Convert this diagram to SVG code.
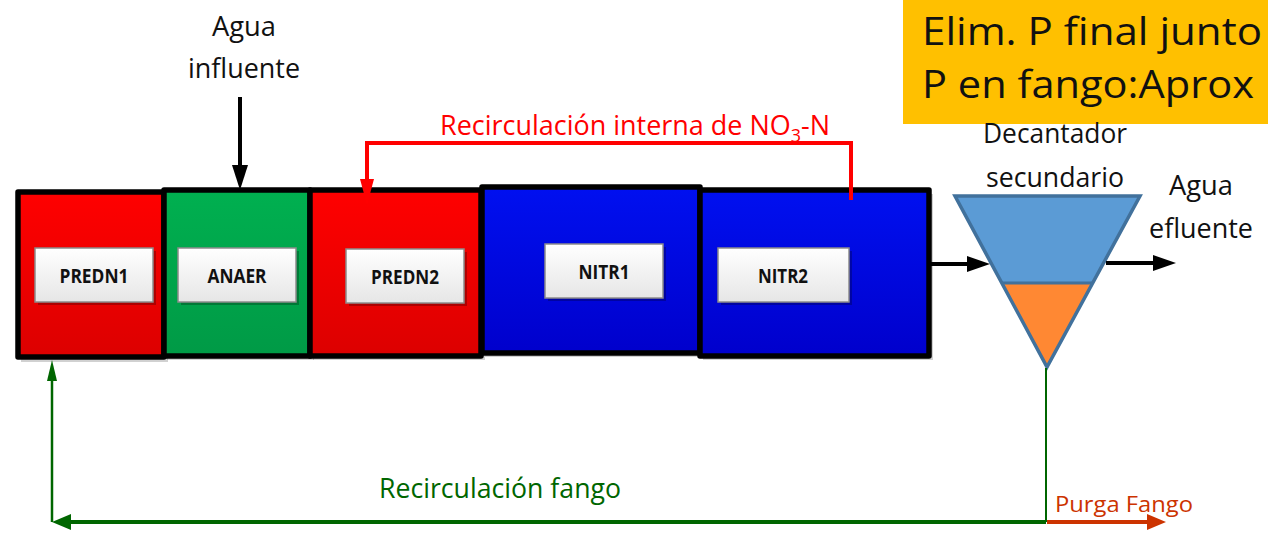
<svg xmlns="http://www.w3.org/2000/svg" width="1268" height="541" viewBox="0 0 1268 541">
<defs>
<linearGradient id="gRed" x1="0" y1="0" x2="0" y2="1"><stop offset="0" stop-color="#FF0000"/><stop offset="1" stop-color="#DC0000"/></linearGradient>
<linearGradient id="gGreen" x1="0" y1="0" x2="0" y2="1"><stop offset="0" stop-color="#00B050"/><stop offset="1" stop-color="#009A46"/></linearGradient>
<linearGradient id="gBlue" x1="0" y1="0" x2="0" y2="1"><stop offset="0" stop-color="#0010F0"/><stop offset="1" stop-color="#0000CC"/></linearGradient>
<linearGradient id="gLab" x1="0" y1="0" x2="0" y2="1"><stop offset="0" stop-color="#FFFFFF"/><stop offset="1" stop-color="#E6E6E6"/></linearGradient>
</defs>
<style>
.tank{stroke:#000;stroke-width:5.5;stroke-linejoin:round}
.shadow{fill:#000;opacity:0.18}
.lab{fill:url(#gLab);stroke:#8C8C8C;stroke-width:1.5}
.labsh{fill:#000;opacity:0.25}
.lt{font-family:"Open Sans","Noto Sans",sans-serif;font-weight:bold;font-size:20px;fill:#111;text-anchor:middle}
.t{font-family:"Open Sans","Noto Sans",sans-serif;font-size:27px;fill:#111;text-anchor:middle}
</style>

<g id="title">
<rect x="903" y="0" width="365" height="124" fill="#FFC000"/>
<text x="922" y="45" font-family="'Open Sans','Noto Sans',sans-serif" font-size="38" fill="#111" textLength="340" lengthAdjust="spacingAndGlyphs">Elim. P final junto</text>
<text x="922" y="98" font-family="'Open Sans','Noto Sans',sans-serif" font-size="38" fill="#111" textLength="332" lengthAdjust="spacingAndGlyphs">P en fango:Aprox</text>
</g>

<g id="influente">
<text class="t" x="244" y="36" textLength="64" lengthAdjust="spacingAndGlyphs">Agua</text>
<text class="t" x="244" y="78" textLength="112" lengthAdjust="spacingAndGlyphs">influente</text>
</g>

<g id="PREDN1">
<rect class="shadow" x="21" y="196" width="147" height="166"/>
<rect class="tank" x="18" y="192" width="146" height="165" fill="url(#gRed)"/>
<rect class="labsh" x="38" y="251" width="118" height="54"/>
<rect class="lab" x="35" y="248" width="118" height="54"/>
<text class="lt" x="94" y="283" textLength="69" lengthAdjust="spacingAndGlyphs">PREDN1</text>
</g>

<g id="ANAER">
<rect class="shadow" x="167" y="194" width="147" height="166"/>
<rect class="tank" x="164" y="190" width="146" height="166" fill="url(#gGreen)"/>
<rect class="labsh" x="181" y="251" width="118" height="54"/>
<rect class="lab" x="178" y="248" width="118" height="54"/>
<text class="lt" x="237" y="283" textLength="59" lengthAdjust="spacingAndGlyphs">ANAER</text>
</g>

<g id="PREDN2">
<rect class="shadow" x="313" y="194" width="172" height="166"/>
<rect class="tank" x="310" y="190" width="171" height="166" fill="url(#gRed)"/>
<rect class="labsh" x="349" y="252" width="118" height="54"/>
<rect class="lab" x="346" y="249" width="118" height="54"/>
<text class="lt" x="405" y="284" textLength="68" lengthAdjust="spacingAndGlyphs">PREDN2</text>
</g>

<g id="NITR1">
<rect class="shadow" x="485" y="191" width="219" height="166"/>
<rect class="tank" x="482" y="187" width="218" height="166" fill="url(#gBlue)"/>
<rect class="labsh" x="548" y="247" width="118" height="54"/>
<rect class="lab" x="545" y="244" width="118" height="54"/>
<text class="lt" x="604" y="279" textLength="51" lengthAdjust="spacingAndGlyphs">NITR1</text>
</g>

<g id="NITR2">
<rect class="shadow" x="703" y="194" width="230" height="166"/>
<rect class="tank" x="700" y="190" width="229" height="166" fill="url(#gBlue)"/>
<rect class="labsh" x="721" y="251" width="131" height="54"/>
<rect class="lab" x="718" y="248" width="131" height="54"/>
<text class="lt" x="783" y="283" textLength="50" lengthAdjust="spacingAndGlyphs">NITR2</text>
</g>

<g id="decantador">
<text class="t" x="1055" y="143" textLength="144" lengthAdjust="spacingAndGlyphs">Decantador</text>
<text class="t" x="1055" y="187" textLength="138" lengthAdjust="spacingAndGlyphs">secundario</text>
<polygon points="955,196 1140,196 1093,283 1001,283" fill="#5B9BD5"/>
<polygon points="1001,283 1093,283 1047,367" fill="#FF8833"/>
<line x1="1001" y1="283" x2="1093" y2="283" stroke="#41719C" stroke-width="3"/>
<polygon points="955,196 1140,196 1047,367" fill="none" stroke="#41719C" stroke-width="3.5" stroke-linejoin="miter"/>
</g>

<g id="efluente">
<text class="t" x="1201" y="195" textLength="64" lengthAdjust="spacingAndGlyphs">Agua</text>
<text class="t" x="1201" y="238" textLength="104" lengthAdjust="spacingAndGlyphs">efluente</text>
</g>

<g id="connectors">
<line x1="240" y1="97" x2="240" y2="168" stroke="#000" stroke-width="4"/>
<polygon points="232,165 248,165 240,190" fill="#000"/>
<polyline points="851,200 851,143 367,143 367,182" fill="none" stroke="#FF0000" stroke-width="4"/>
<polygon points="360,179 374,179 367,205" fill="#FF0000"/>
<line x1="931" y1="264" x2="970" y2="264" stroke="#000" stroke-width="4"/>
<polygon points="967,256 967,272 990,264" fill="#000"/>
<line x1="1106" y1="263" x2="1156" y2="263" stroke="#000" stroke-width="4"/>
<polygon points="1153,255 1153,271 1176,263" fill="#000"/>
<line x1="1046" y1="368" x2="1046" y2="522" stroke="#006600" stroke-width="2"/>
<line x1="1046" y1="522" x2="68" y2="522" stroke="#006600" stroke-width="4"/>
<polygon points="71,514 71,530 52,522" fill="#006600"/>
<line x1="52" y1="522" x2="52" y2="378" stroke="#006600" stroke-width="2.5"/>
<polygon points="47,381 57,381 52,360" fill="#006600"/>
<line x1="1047" y1="522" x2="1150" y2="522" stroke="#CC3300" stroke-width="4"/>
<polygon points="1147,514 1147,530 1166,522" fill="#CC3300"/>
<text x="440" y="135" font-family="'Open Sans','Noto Sans',sans-serif" font-size="27" fill="#FF0000" textLength="390" lengthAdjust="spacingAndGlyphs">Recirculación interna de NO<tspan font-size="18" dy="7">3</tspan><tspan dy="-7">-N</tspan></text>
<text x="379" y="498" font-family="'Open Sans','Noto Sans',sans-serif" font-size="27" fill="#006600" textLength="242" lengthAdjust="spacingAndGlyphs">Recirculación fango</text>
<text x="1055" y="512" font-family="'Open Sans','Noto Sans',sans-serif" font-size="22" fill="#CC3300" textLength="138" lengthAdjust="spacingAndGlyphs">Purga Fango</text>
</g>
</svg>
